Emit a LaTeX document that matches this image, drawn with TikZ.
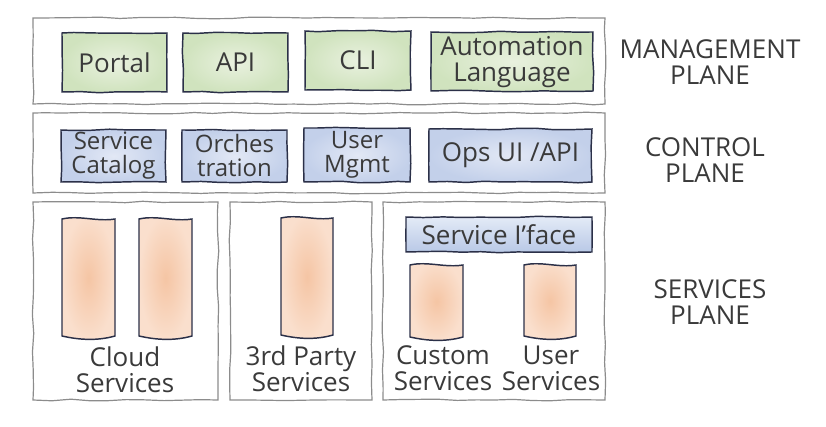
\documentclass[tikz,border=0pt]{standalone}
\usepackage{fontspec}
\setmainfont{Open Sans}
\usetikzlibrary{decorations.pathmorphing}
\definecolor{outergray}{HTML}{8C8C8C}
\definecolor{navy}{HTML}{2B3048}
\definecolor{ink}{HTML}{3A3A3A}
\definecolor{ginner}{HTML}{E9F1DF}
\definecolor{gouter}{HTML}{D0E3BE}
\definecolor{binner}{HTML}{E2E8F5}
\definecolor{bouter}{HTML}{C3D0EA}
\definecolor{btop}{HTML}{E4EBF7}
\definecolor{bbot}{HTML}{B8C8E6}
\definecolor{oinner}{HTML}{F5C5A4}
\definecolor{oouter}{HTML}{FADFCD}
\tikzset{
  sketch/.style={decorate, decoration={random steps, segment length=14pt, amplitude=0.6pt}},
  outerbox/.style={draw=outergray, line width=0.9pt, sketch},
  inbox/.style={draw=navy, line width=1.1pt, sketch},
  gbox/.style={inbox, inner color=ginner, outer color=gouter},
  bbox/.style={inbox, inner color=binner, outer color=bouter},
  ibox/.style={inbox, top color=btop, bottom color=bbot},
  pillar/.style={draw=navy, line width=1.1pt, inner color=oinner, outer color=oouter},
  lbl/.style={align=center, text=ink, font=\fontsize{19.5}{19.5}\selectfont, inner sep=0pt},
  lbltight/.style={lbl, font=\fontsize{18}{18}\selectfont},
}
\newcommand\pillarshape[4]{%
  \path[pillar] (#1,#2) .. controls ({#1+(#3-#1)/3},{#2-4}) and ({#3-(#3-#1)/3},{#2+3}) .. (#3,#2)
    -- (#3,#4) .. controls ({#3-(#3-#1)/3},{#4+5}) and ({#1+(#3-#1)/3},{#4+4}) .. (#1,#4) -- cycle;}
\begin{document}
\begin{tikzpicture}[x=0.75pt,y=-0.75pt]
\pgfmathsetseed{7}
\useasboundingbox (0,0) rectangle (826,427);
% outer planes
\path[outerbox] (33,18) rectangle (605,104);
\path[outerbox] (33,113) rectangle (605,193);
\path[outerbox] (33,202) rectangle (218,400);
\path[outerbox] (230,202) rectangle (372,400);
\path[outerbox] (383,202) rectangle (605,400);
% management plane
\path[gbox] (62,33) rectangle (167,92);
\path[gbox] (183,33) rectangle (288,92);
\path[gbox] (305,31) rectangle (411,90);
\path[gbox] (431,32) rectangle (593,91);
\node[lbl] (portal) at (114.5,62.5) {Portal};
\node[lbl] (api) at (235.5,62.5) {API};
\node[lbl] (cli) at (358,60.5) {CLI};
\node[lbl] (auto) at (512,62) {Automation\\Language};
% control plane
\path[bbox] (61,130) rectangle (166,182);
\path[bbox] (182,130) rectangle (287,182);
\path[bbox] (304,128) rectangle (410,182);
\path[bbox] (429,129) rectangle (592,182);
\node[lbltight] (catalog) at (113.5,156) {Service\\Catalog};
\node[lbltight] (orch) at (234.5,156) {Orches\\tration};
\node[lbltight] (user) at (357,155) {User\\Mgmt};
\node[lbl] (ops) at (510.5,155.5) {Ops UI /API};
% services plane
\pillarshape{62}{219}{115}{336}
\pillarshape{139}{219}{192}{336}
\pillarshape{281}{218}{333}{335}
\pillarshape{410}{265}{463}{337}
\pillarshape{524}{265}{576}{336}
\path[ibox] (406,217) rectangle (592,252);
\node[lbl] (iface) at (499,234.5) {Service I’face};
\node[lbl] (cloudlbl) at (125,370) {Cloud\\Services};
\node[lbl] (thirdlbl) at (301,369) {3rd Party\\Services};
\node[lbl] (customlbl) at (443,368) {Custom\\Services};
\node[lbl] (userlbl) at (551,368) {User\\Services};
% plane labels
\node[lbl] (mgmtlbl) at (710,62) {MANAGEMENT\\PLANE};
\node[lbl] (ctrllbl) at (705,160) {CONTROL\\PLANE};
\node[lbl] (svclbl) at (710,302) {SERVICES\\PLANE};
\end{tikzpicture}
\end{document}
